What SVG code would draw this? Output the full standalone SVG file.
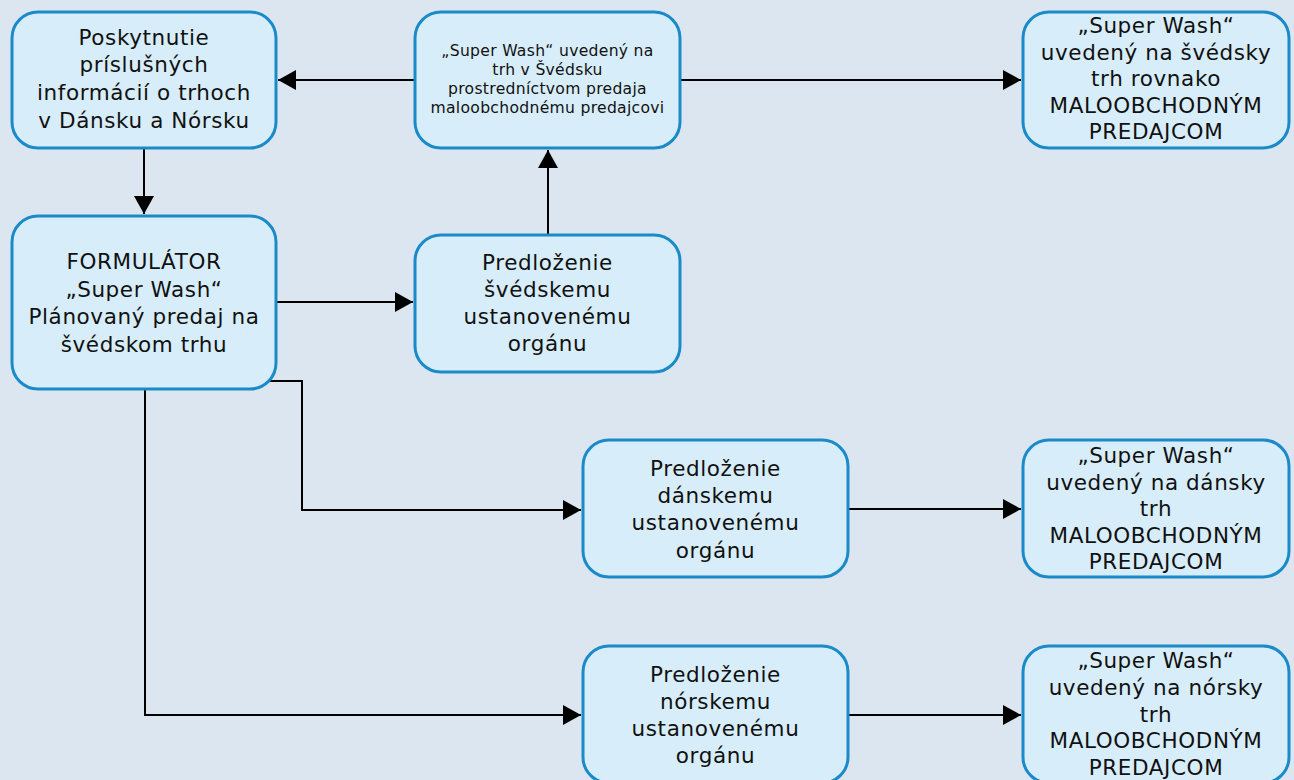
<svg xmlns="http://www.w3.org/2000/svg" width="1294" height="780" viewBox="0 0 1294 780">
  <style>
    .box { fill: #d7edf9; stroke: #1a8ac8; stroke-width: 3; }
    .lbl { font-family: "DejaVu Sans", Verdana, sans-serif; font-size: 21.5px; letter-spacing: 0.6px; fill: #111; text-anchor: middle; }
    .sm { font-size: 15.6px; letter-spacing: 0.3px; }
    .conn { fill: none; stroke: #000; stroke-width: 2; }
  </style>
  <defs>
    <marker id="arrow" markerUnits="userSpaceOnUse" markerWidth="20" markerHeight="20" refX="18" refY="10" orient="auto">
      <path d="M0,0 L18,10 L0,20 z" fill="#000"/>
    </marker>
  </defs>
  <rect x="0" y="0" width="1294" height="780" fill="#dce6f1"/>

  <g id="connectors" class="conn" marker-end="url(#arrow)">
    <path d="M415,80 H278"/>
    <path d="M680,80 H1021"/>
    <path d="M144,148 V214"/>
    <path d="M276,302 H413"/>
    <path d="M548,235 V150"/>
    <path d="M269,381 H302 V510 H581"/>
    <path d="M848,509 H1021"/>
    <path d="M145,389 V715 H581"/>
    <path d="M848,715 H1021"/>
  </g>

  <g id="n-info">
    <rect class="box" x="12" y="12" width="264" height="136" rx="26"/>
    <text class="lbl" x="144" y="45">Poskytnutie</text>
    <text class="lbl" x="144" y="72">príslušných</text>
    <text class="lbl" x="144" y="100">informácií o trhoch</text>
    <text class="lbl" x="144" y="128">v Dánsku a Nórsku</text>
  </g>

  <g id="n-sweden-market">
    <rect class="box" x="415" y="12" width="265" height="136" rx="26"/>
    <text class="lbl sm" x="547.5" y="56">„Super Wash“ uvedený na</text>
    <text class="lbl sm" x="547.5" y="75">trh v Švédsku</text>
    <text class="lbl sm" x="547.5" y="94">prostredníctvom predaja</text>
    <text class="lbl sm" x="547.5" y="113">maloobchodnému predajcovi</text>
  </g>

  <g id="n-sweden-retail">
    <rect class="box" x="1023" y="12" width="266" height="136" rx="26"/>
    <text class="lbl" x="1156" y="33">„Super Wash“</text>
    <text class="lbl" x="1156" y="60">uvedený na švédsky</text>
    <text class="lbl" x="1156" y="86">trh rovnako</text>
    <text class="lbl" x="1156" y="113">MALOOBCHODNÝM</text>
    <text class="lbl" x="1156" y="139">PREDAJCOM</text>
  </g>

  <g id="n-formulator">
    <rect class="box" x="12" y="216" width="264" height="173" rx="26"/>
    <text class="lbl" x="144" y="269">FORMULÁTOR</text>
    <text class="lbl" x="144" y="297">„Super Wash“</text>
    <text class="lbl" x="144" y="324">Plánovaný predaj na</text>
    <text class="lbl" x="144" y="352">švédskom trhu</text>
  </g>

  <g id="n-sweden-authority">
    <rect class="box" x="415" y="235" width="265" height="137" rx="26"/>
    <text class="lbl" x="547.5" y="270">Predloženie</text>
    <text class="lbl" x="547.5" y="297">švédskemu</text>
    <text class="lbl" x="547.5" y="324">ustanovenému</text>
    <text class="lbl" x="547.5" y="351">orgánu</text>
  </g>

  <g id="n-denmark-authority">
    <rect class="box" x="583" y="440" width="265" height="137" rx="26"/>
    <text class="lbl" x="715.5" y="476">Predloženie</text>
    <text class="lbl" x="715.5" y="503">dánskemu</text>
    <text class="lbl" x="715.5" y="530">ustanovenému</text>
    <text class="lbl" x="715.5" y="558">orgánu</text>
  </g>

  <g id="n-denmark-retail">
    <rect class="box" x="1023" y="440" width="266" height="137" rx="26"/>
    <text class="lbl" x="1156" y="463">„Super Wash“</text>
    <text class="lbl" x="1156" y="490">uvedený na dánsky</text>
    <text class="lbl" x="1156" y="516">trh</text>
    <text class="lbl" x="1156" y="543">MALOOBCHODNÝM</text>
    <text class="lbl" x="1156" y="569">PREDAJCOM</text>
  </g>

  <g id="n-norway-authority">
    <rect class="box" x="583" y="646" width="265" height="137" rx="26"/>
    <text class="lbl" x="715.5" y="682">Predloženie</text>
    <text class="lbl" x="715.5" y="709">nórskemu</text>
    <text class="lbl" x="715.5" y="736">ustanovenému</text>
    <text class="lbl" x="715.5" y="763">orgánu</text>
  </g>

  <g id="n-norway-retail">
    <rect class="box" x="1023" y="646" width="266" height="137" rx="26"/>
    <text class="lbl" x="1156" y="668">„Super Wash“</text>
    <text class="lbl" x="1156" y="695">uvedený na nórsky</text>
    <text class="lbl" x="1156" y="722">trh</text>
    <text class="lbl" x="1156" y="748">MALOOBCHODNÝM</text>
    <text class="lbl" x="1156" y="775">PREDAJCOM</text>
  </g>
</svg>
